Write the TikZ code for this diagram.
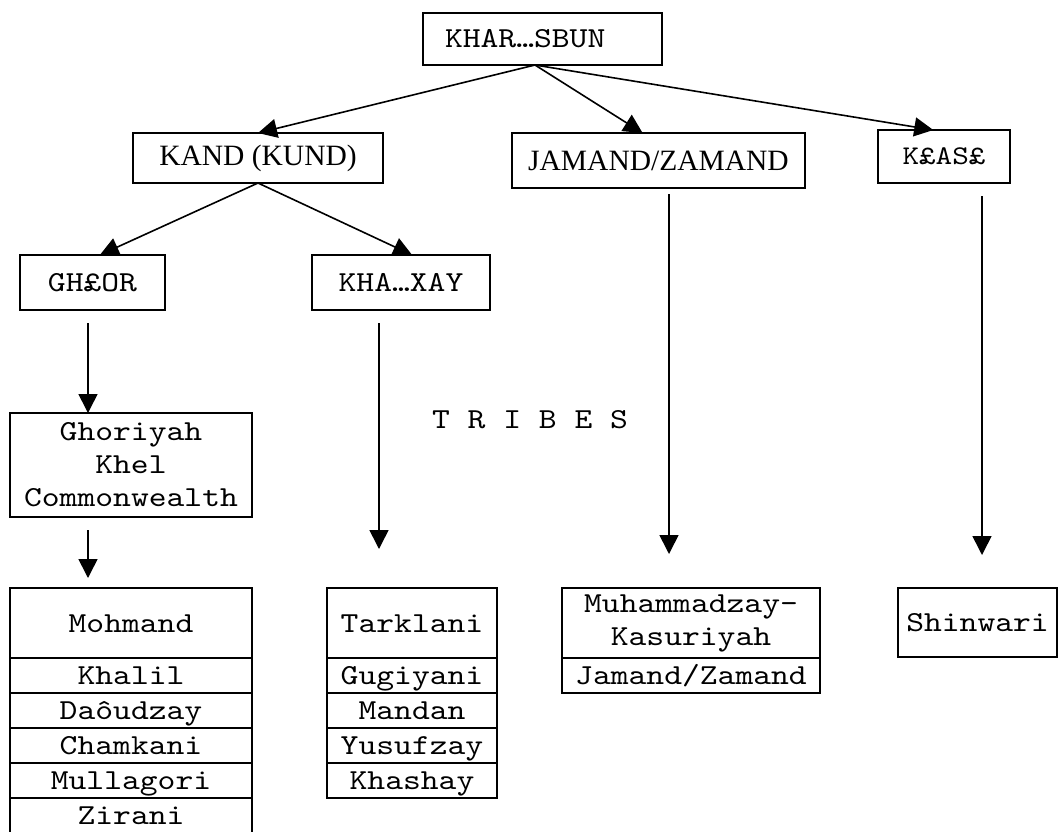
\documentclass[tikz,border=0pt]{standalone}
\usepackage{fontspec}
\setmainfont{Liberation Serif}
\setmonofont[FakeStretch=1.17]{lmmono10-regular.otf}
\usetikzlibrary{arrows.meta,positioning}

\begin{document}
\begin{tikzpicture}[x=1pt, y=-1pt, line width=1.6pt,
  box/.style={draw, inner sep=0pt, outer sep=0pt, align=center},
  mono/.style={font=\ttfamily\fontsize{29}{33}\selectfont},
  roman/.style={font=\rmfamily\fontsize{29.5}{33}\selectfont},
  cell/.style={box, mono, minimum height=35pt, text height=22pt, text depth=4pt},
  arr/.style={-{Triangle[length=19pt,width=19pt]}}]
  \useasboundingbox (0,0) rectangle (1061,831);
  \clip (0,0) rectangle (1061,831);

  \node[box, mono, text width=195pt, align=left, inner xsep=22pt, minimum height=52pt] (top) at (542.5,39) {KHAR…SBUN};
  \node[box, roman, minimum width=250pt, minimum height=50pt] (kand) at (258,158) {KAND (KUND)};
  \node[box, roman, minimum width=293pt, minimum height=55pt] (jamand) at (658.5,160.5) {JAMAND/ZAMAND};
  \node[box, font=\ttfamily\fontsize{27}{30}\selectfont, minimum width=132pt, minimum height=53pt] (kasa) at (944,156.5) {K£AS£};
  \node[box, mono, minimum width=145pt, minimum height=55pt] (ghor) at (92.5,282.5) {GH£OR};
  \node[box, mono, minimum width=178pt, minimum height=55pt] (khax) at (401,282.5) {KHA…XAY};
  \node[mono] (tribes) at (530,420) {T R I B E S};
  \node[box, mono, minimum width=242pt, minimum height=104pt] (ghk) at (131,465) {Ghoriyah\\Khel\\Commonwealth};

  \node[cell, minimum width=242pt, minimum height=70pt] (moh) at (131,623) {Mohmand};
  \node[cell, minimum width=242pt, below=0pt of moh] (khal) {Khalil};
  \node[cell, minimum width=242pt, below=0pt of khal] (daou) {Daôudzay};
  \node[cell, minimum width=242pt, below=0pt of daou] (cham) {Chamkani};
  \node[cell, minimum width=242pt, below=0pt of cham] (mull) {Mullagori};
  \node[cell, minimum width=242pt, below=0pt of mull] (zira) {Zirani};

  \node[cell, minimum width=170pt, minimum height=70pt] (tark) at (412,623) {Tarklani};
  \node[cell, minimum width=170pt, below=0pt of tark] (gugi) {Gugiyani};
  \node[cell, minimum width=170pt, below=0pt of gugi] (mand) {Mandan};
  \node[cell, minimum width=170pt, below=0pt of mand] (yusu) {Yusufzay};
  \node[cell, minimum width=170pt, below=0pt of yusu] (khas) {Khashay};

  \node[box, mono, minimum width=258pt, minimum height=70pt] (muh) at (691,623) {Muhammadzay-\\Kasuriyah};
  \node[cell, minimum width=258pt, below=0pt of muh] (jaza) {Jamand/Zamand};

  \node[cell, minimum width=159pt, minimum height=69pt] (shin) at (977.5,622.5) {Shinwari};

  \draw[arr] ([xshift=-7.5pt]top.south) -- (kand.north);
  \draw[arr] ([xshift=-7.5pt]top.south) -- (jamand.120);
  \draw[arr] ([xshift=-7.5pt]top.south) -- (kasa.112);
  \draw[arr] (kand.south) -- (ghor.75);
  \draw[arr] (kand.south) -- (khax.68);

  \draw[arr, shorten <=13pt] ([xshift=-4.5pt]ghor.south) -- ([xshift=-4.5pt]ghor.south |- ghk.north);
  \draw[arr, shorten <=13pt, shorten >=10pt] ([xshift=-43pt]ghk.south) -- ([xshift=-43pt]ghk.south |- moh.north);
  \draw[arr, shorten <=13pt, shorten >=39pt] ([xshift=-22pt]khax.south) -- ([xshift=-22pt]khax.south |- tark.north);
  \draw[arr, shorten <=6pt, shorten >=34pt] ([xshift=10.5pt]jamand.south) -- ([xshift=10.5pt]jamand.south |- muh.north);
  \draw[arr, shorten <=13pt, shorten >=33pt] ([xshift=38pt]kasa.south) -- ([xshift=38pt]kasa.south |- shin.north);
\end{tikzpicture}
\end{document}
